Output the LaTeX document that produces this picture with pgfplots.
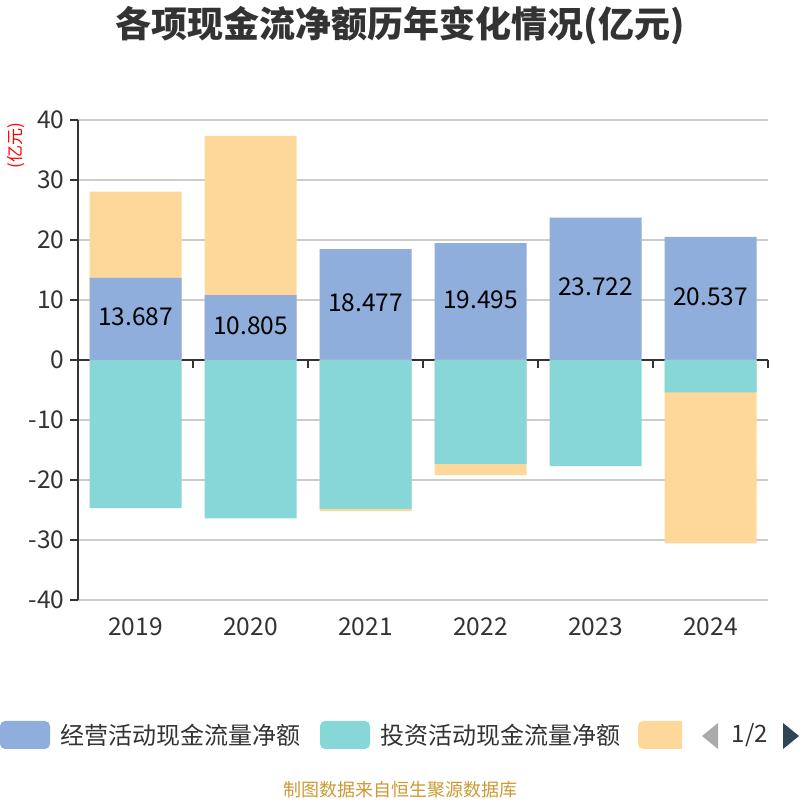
\documentclass[border=0pt]{standalone}
\usepackage{fontspec}
\setmainfont{Noto Sans CJK SC}
\usepackage{pgfplots}
\pgfplotsset{compat=1.18}
\definecolor{cblue}{RGB}{143,174,219}
\definecolor{cteal}{RGB}{135,214,216}
\definecolor{corange}{RGB}{254,216,154}
\definecolor{ctext}{RGB}{51,51,51}
\definecolor{cgrid}{RGB}{204,204,204}
\definecolor{caxis}{RGB}{51,51,51}
\definecolor{cfoot}{RGB}{204,153,51}
\definecolor{carrowd}{RGB}{47,69,84}
\definecolor{carrowl}{RGB}{170,170,170}
\begin{document}
\begin{tikzpicture}[x=1pt,y=1pt]
\path[use as bounding box] (0,0) rectangle (800,800);
\begin{axis}[
  at={(78pt,200pt)}, anchor=south west,
  scale only axis, width=690pt, height=480pt,
  xmin=-0.5, xmax=5.5, ymin=-40, ymax=40,
  ytick={-40,-30,...,40},
  xtick={0,1,2,3,4,5},
  xticklabels={2019,2020,2021,2022,2023,2024},
  axis y line*=left, axis x line*=bottom,
  x axis line style={cgrid, line width=1.3pt},
  y axis line style={caxis, line width=1.8pt},
  ymajorgrids, grid style={cgrid, line width=1.3pt},
  tick align=outside, major tick length=8pt,
  xtick style={draw=none},
  ytick style={caxis, line width=1.5pt},
  /pgf/number format/assume math mode=true,
  tick label style={font=\fontsize{24.5}{24.5}\selectfont, text=ctext},
  xticklabel style={yshift=-6pt},
  yticklabel style={xshift=-2pt},
  clip=false,
]
\draw[caxis, line width=1.8pt] (axis cs:-0.5,0) -- (axis cs:5.5,0);
\pgfplotsinvokeforeach{0.5,1.5,2.5,3.5,4.5,5.5}{
  \draw[caxis, line width=1.5pt] (axis cs:#1,0) -- ([yshift=-8pt]axis cs:#1,0);
}
% positive financing (top of stack = operating + financing)
\addplot[ybar, bar width=92pt, bar shift=0pt, fill=corange, draw=none] coordinates {(0,28.05) (1,37.35)};
% operating
\addplot[ybar, bar width=92pt, bar shift=0pt, fill=cblue, draw=none] coordinates {(0,13.687) (1,10.805) (2,18.477) (3,19.495) (4,23.722) (5,20.537)};
% negative financing (bottom of stack = investing + financing)
\addplot[ybar, bar width=92pt, bar shift=0pt, fill=corange, draw=none] coordinates {(2,-25.17) (3,-19.17) (5,-30.55)};
% investing
\addplot[ybar, bar width=92pt, bar shift=0pt, fill=cteal, draw=none] coordinates {(0,-24.67) (1,-26.4) (2,-24.83) (3,-17.33) (4,-17.67) (5,-5.4)};
% labels
\addplot[draw=none, nodes near coords, point meta=explicit symbolic,
  y filter/.expression={y/2},
  nodes near coords style={anchor=center, yshift=2pt, font=\fontsize{24.5}{24.5}\selectfont, text=black}]
  coordinates {(0,13.687)[13.687] (1,10.805)[10.805] (2,18.477)[18.477] (3,19.495)[19.495] (4,23.722)[23.722] (5,20.537)[20.537]};
\end{axis}
% title
\node[font=\fontsize{36}{36}\selectfont\bfseries, text=ctext] at (400,774) {各项现金流净额历年变化情况(亿元)};
% y unit
\node[rotate=90, text=red, font=\fontsize{17}{17}\selectfont] at (16,654) {(亿元)};
% legend
\fill[cblue, rounded corners=5pt] (0,51) rectangle (50,79);
\node[anchor=west, font=\fontsize{24}{24}\selectfont, text=ctext, inner sep=0pt] at (60,65) {经营活动现金流量净额};
\fill[cteal, rounded corners=5pt] (320,51) rectangle (370,79);
\node[anchor=west, font=\fontsize{24}{24}\selectfont, text=ctext, inner sep=0pt] at (380,65) {投资活动现金流量净额};
\begin{scope}
\clip (630,40) rectangle (682,90);
\fill[corange, rounded corners=5pt] (638,51) rectangle (688,79);
\end{scope}
\fill[carrowl] (702,64) -- (718,77) -- (718,51) -- cycle;
\node[font=\fontsize{24}{24}\selectfont, text=ctext, inner sep=0pt] at (750,65) {1/2};
\fill[carrowd] (799,64) -- (783,77) -- (783,51) -- cycle;
% footer
\node[font=\fontsize{18}{18}\selectfont, text=cfoot] at (400,10) {制图数据来自恒生聚源数据库};
\end{tikzpicture}
\end{document}
